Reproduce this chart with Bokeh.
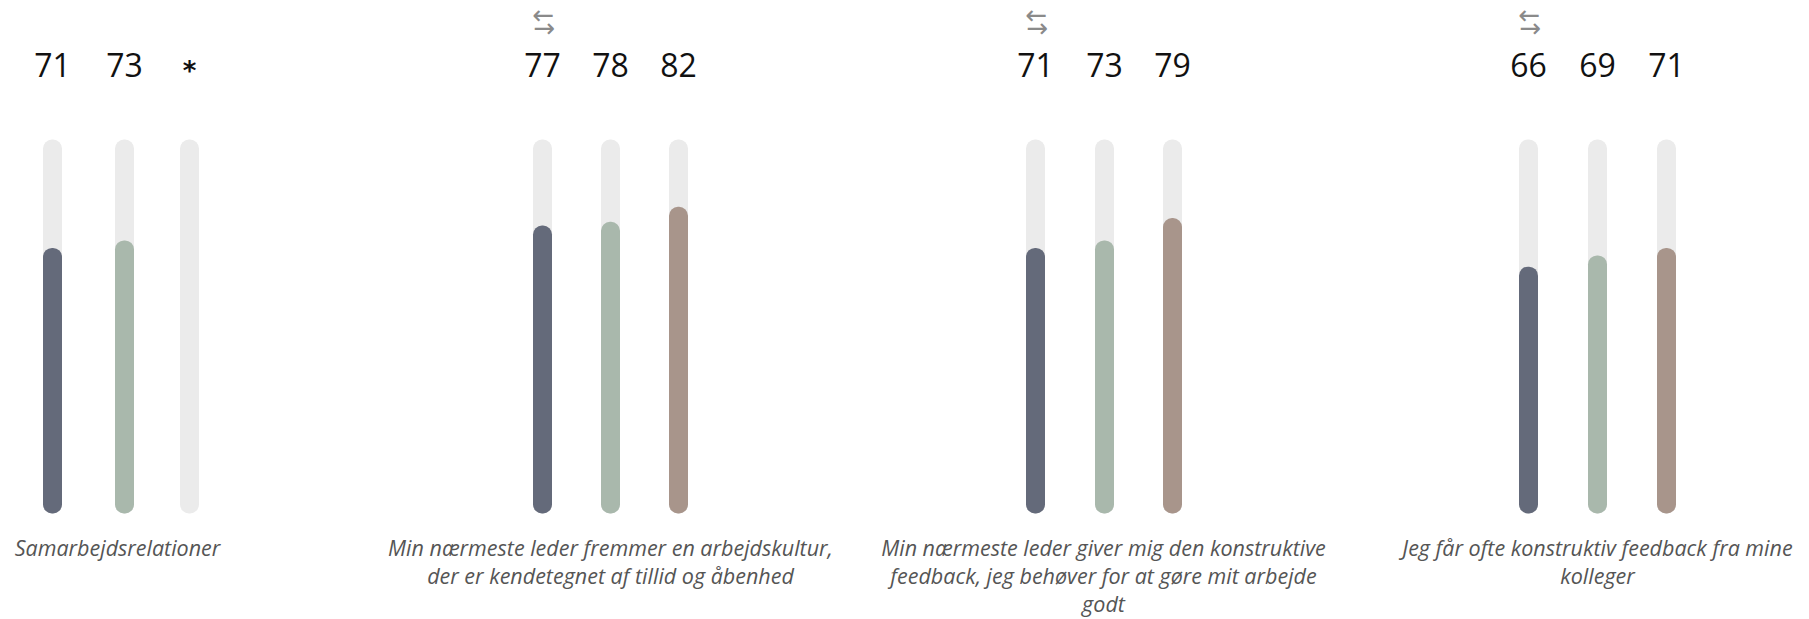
from bokeh.plotting import figure
from bokeh.models import Range1d
from bokeh.core.properties import value
from bokeh.embed import file_html
from bokeh.resources import INLINE

# ---- data ----
categories = [
    "Samarbejdsrelationer",
    "Min nærmeste leder fremmer en arbejdskultur, der er kendetegnet af tillid og åbenhed",
    "Min nærmeste leder giver mig den konstruktive feedback, jeg behøver for at gøre mit arbejde godt",
    "Jeg får ofte konstruktiv feedback fra mine kolleger",
]
title_lines = [
    ["Samarbejdsrelationer"],
    ["Min nærmeste leder fremmer en arbejdskultur,", "der er kendetegnet af tillid og åbenhed"],
    ["Min nærmeste leder giver mig den konstruktive", "feedback, jeg behøver for at gøre mit arbejde", "godt"],
    ["Jeg får ofte konstruktiv feedback fra mine", "kolleger"],
]
series_1 = [71, 77, 71, 66]
series_2 = [73, 78, 73, 69]
series_3 = [None, 82, 79, 71]
show_arrow = [False, True, True, True]
max_value = 100

# ---- layout / style ----
colors = ["#646a7a", "#a9b8ac", "#a8958b"]
track_color = "#ebebeb"
group_x = [[52, 124, 189], [542, 610, 678], [1035, 1104, 1172], [1528, 1597, 1666]]
title_x = [117, 610, 1103, 1597]
W, H = 1809, 619
px_per_unit = 3.74
base_screen = 513  # screen y of value 0

def to_y(screen_y):
    return (base_screen - screen_y) / px_per_unit

p = figure(width=W, height=H, output_backend="svg", toolbar_location=None,
           x_range=Range1d(0, W), y_range=Range1d(to_y(H), to_y(0)),
           min_border=0, outline_line_color=None)
p.axis.visible = False
p.grid.visible = False
p.background_fill_color = "white"
p.border_fill_color = "white"

series = [series_1, series_2, series_3]

# tracks
tx = []
for g in range(len(categories)):
    for s in range(3):
        tx.append(group_x[g][s])
p.vbar(x=tx, top=max_value, bottom=0, width=19, fill_color=track_color,
       line_color=None, border_radius=9)

# filled bars
for s in range(3):
    xs, tops = [], []
    for g in range(len(categories)):
        v = series[s][g]
        if v is not None:
            xs.append(group_x[g][s])
            tops.append(v)
    p.vbar(x=xs, top=tops, bottom=0, width=19, fill_color=colors[s],
           line_color=None, border_radius=9)

# value labels
lx, ly, lt = [], [], []
ax, ay, at = [], [], []
for g in range(len(categories)):
    for s in range(3):
        v = series[s][g]
        if v is not None:
            lx.append(group_x[g][s]); ly.append(to_y(64)); lt.append(str(v))
        else:
            ax.append(group_x[g][s]); ay.append(to_y(70)); at.append("*")
p.text(x=lx, y=ly, text=lt, text_align="center", text_baseline="alphabetic",
       text_font=value("Open Sans"), text_font_size="32px", text_color="#111111")
p.text(x=ax, y=ay, text=at, text_align="center", text_baseline="alphabetic",
       text_font=value("DejaVu Sans"), text_font_size="26px", text_font_style="bold",
       text_color="#111111")

# arrows (left over right)
arx = [group_x[g][0] + 1 for g in range(len(categories)) if show_arrow[g]]
p.text(x=arx, y=[to_y(14)] * len(arx), text=["\u2190"] * len(arx), text_align="center",
       text_baseline="middle", text_font=value("DejaVu Sans"), text_font_size="26px",
       text_color="#8a8a8a")
p.text(x=[a + 1 for a in arx], y=[to_y(27)] * len(arx), text=["\u2192"] * len(arx),
       text_align="center", text_baseline="middle", text_font=value("DejaVu Sans"),
       text_font_size="26px", text_color="#8a8a8a")

# titles
tix, tiy, tit = [], [], []
for g, lines in enumerate(title_lines):
    for i, line in enumerate(lines):
        tix.append(title_x[g]); tiy.append(to_y(547 + i * 28)); tit.append(line)
p.text(x=tix, y=tiy, text=tit, text_align="center", text_baseline="alphabetic",
       text_font=value("Open Sans"), text_font_size="21.5px", text_font_style="italic",
       text_color="#555555")

open("out.html", "w").write(file_html(p, INLINE))
